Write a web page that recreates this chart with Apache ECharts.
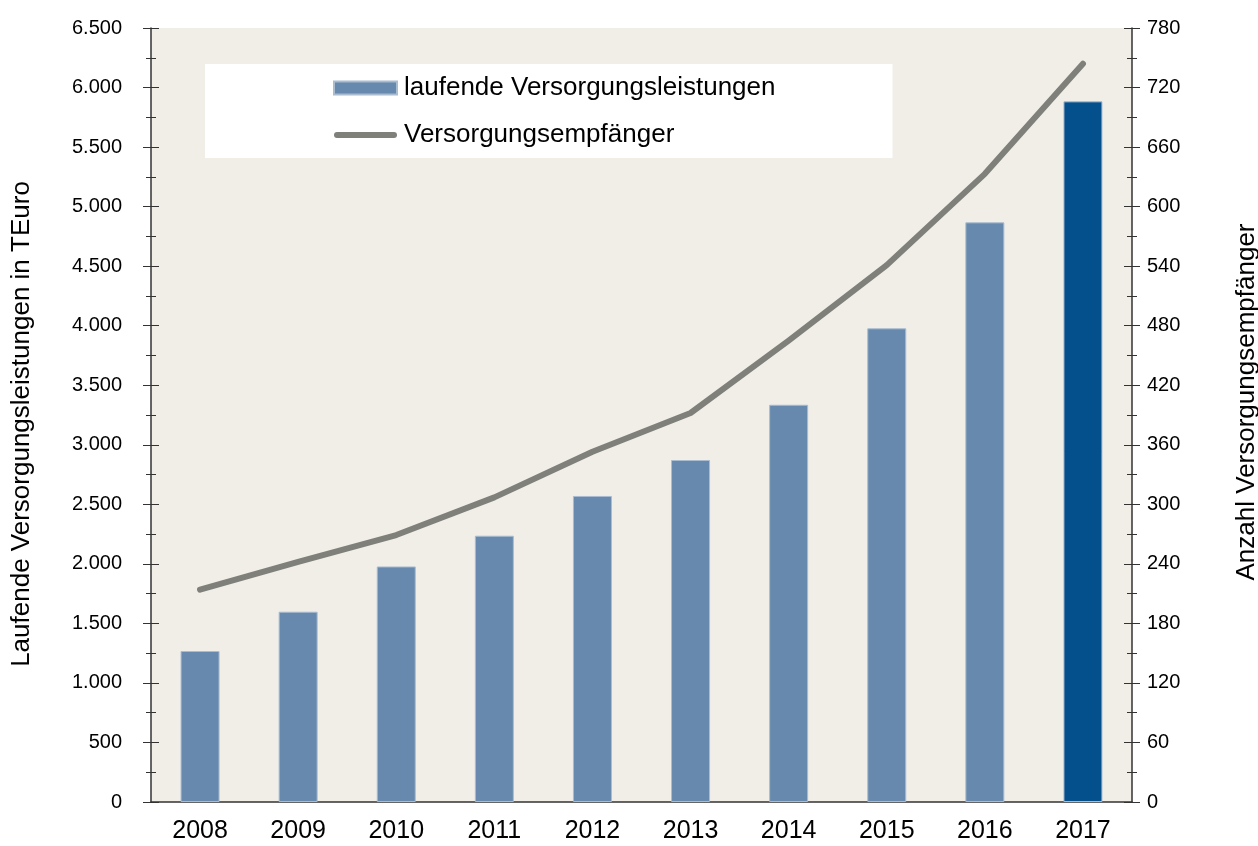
<!DOCTYPE html>
<html lang="de">
<head>
    <meta charset="utf-8">
    <title>Versorgungsleistungen</title>
    <script src="https://cdn.jsdelivr.net/npm/echarts@6/dist/echarts.min.js"></script>
    <style>
        html, body { margin: 0; padding: 0; background: #fff; }
        #chart { width: 1258px; height: 846px; }
    </style>
</head>
<body>
<div id="chart"></div>
<script type="text/javascript">
    // Jahre
    var years = ['2008', '2009', '2010', '2011', '2012', '2013', '2014', '2015', '2016', '2017'];
    // laufende Versorgungsleistungen in TEuro (linke Achse)
    var leistungen = [1268, 1598, 1978, 2236, 2570, 2872, 3336, 3978, 4868, 5884];
    // Anzahl Versorgungsempfänger (rechte Achse)
    var empfaenger = [214, 242, 269, 307, 353, 392, 465, 541, 633, 744];

    var font = '"Liberation Sans", Arial, sans-serif';
    var axisColor = '#333';
    var lineColor = '#80807b';

    // letzter Balken dunkler
    var barData = leistungen.map(function (v, i) {
        if (i === leistungen.length - 1) {
            return { value: v, itemStyle: { color: '#03508c' } };
        }
        return v;
    });

    // Achse mit Strichen nach innen (damit die Striche die Achse kreuzen)
    function innerTicks(pos, max, step) {
        return {
            type: 'value', position: pos, min: 0, max: max, interval: step,
            axisLine: { show: false },
            axisLabel: { show: false },
            splitLine: { show: false },
            axisTick: { show: true, inside: true, length: 8, lineStyle: { color: axisColor } },
            minorTick: { show: true, splitNumber: 2, length: 5, lineStyle: { color: axisColor } }
        };
    }

    var myChart = echarts.init(document.getElementById('chart'));
    var option = {
        animation: false,
        textStyle: { fontFamily: font },
        grid: {
            left: 151, right: 126, top: 28, bottom: 44,
            outerBoundsMode: 'none',
            containLabel: false,
            show: true, backgroundColor: '#f1eee8', borderWidth: 0
        },
        legend: {
            left: 205, top: 64,
            orient: 'vertical',
            backgroundColor: '#fff',
            padding: [9, 117, 8, 128],
            itemWidth: 63, itemHeight: 13, itemGap: 17,
            textStyle: { fontSize: 26, color: '#000', lineHeight: 30, padding: [0, 0, 0, 2] },
            data: [
                { name: 'laufende Versorgungsleistungen', icon: 'rect' },
                {
                    name: 'Versorgungsempfänger',
                    // dicke Linie mit runden Enden, mittig im Symbolfeld
                    icon: 'path://M0,0M63,13M3,3.5L60,3.5A3,3,0,0,1,60,9.5L3,9.5A3,3,0,0,1,3,3.5Z',
                    itemStyle: { color: lineColor }
                }
            ]
        },
        xAxis: {
            type: 'category',
            data: years,
            axisLine: { lineStyle: { color: axisColor, width: 1.5 } },
            axisTick: { show: false },
            axisLabel: { fontSize: 25, color: '#000', margin: 17 }
        },
        yAxis: [{
            type: 'value', position: 'left', min: 0, max: 6500, interval: 500,
            name: 'Laufende Versorgungsleistungen in TEuro',
            nameLocation: 'middle', nameRotate: 90, nameGap: 116,
            nameTextStyle: { fontSize: 26, color: '#000', padding: [0, 18, 0, 0] },
            axisLine: { show: true, lineStyle: { color: axisColor, width: 1.5 } },
            axisTick: { show: true, length: 8, lineStyle: { color: axisColor } },
            minorTick: { show: true, splitNumber: 2, length: 5, lineStyle: { color: axisColor } },
            splitLine: { show: false },
            axisLabel: {
                fontSize: 20, color: '#000', margin: 29,
                formatter: function (v) { return v >= 1000 ? (v / 1000).toFixed(3) : String(v); }
            }
        }, {
            type: 'value', position: 'right', min: 0, max: 780, interval: 60,
            name: 'Anzahl Versorgungsempfänger',
            nameLocation: 'middle', nameRotate: 90, nameGap: 102,
            nameTextStyle: { fontSize: 26, color: '#000', padding: [0, 0, 0, 26] },
            axisLine: { show: true, lineStyle: { color: axisColor, width: 1.5 } },
            axisTick: { show: true, length: 8, lineStyle: { color: axisColor } },
            minorTick: { show: true, splitNumber: 2, length: 5, lineStyle: { color: axisColor } },
            splitLine: { show: false },
            axisLabel: { fontSize: 20, color: '#000', margin: 15 }
        },
            innerTicks('left', 6500, 500),
            innerTicks('right', 780, 60)
        ],
        series: [{
            name: 'laufende Versorgungsleistungen',
            type: 'bar',
            yAxisIndex: 0,
            barWidth: 39,
            itemStyle: { color: '#6789ad', borderColor: '#a9bcd0', borderWidth: 1 },
            data: barData
        }, {
            name: 'Versorgungsempfänger',
            type: 'line',
            yAxisIndex: 1,
            symbol: 'none',
            lineStyle: { color: lineColor, width: 6, cap: 'round', join: 'round' },
            itemStyle: { color: lineColor },
            data: empfaenger
        }]
    };
    myChart.setOption(option);
</script>
</body>
</html>
